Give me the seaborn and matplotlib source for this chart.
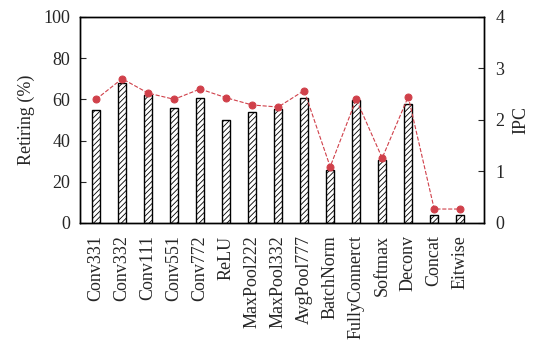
import numpy as np
import pandas as pd
import seaborn as sns
import matplotlib
matplotlib.use('Agg')
import matplotlib.pyplot as plt

layers = ['Conv331', 'Conv332', 'Conv111', 'Conv551', 'Conv772', 'ReLU',
          'MaxPool222', 'MaxPool332', 'AvgPool777', 'BatchNorm',
          'FullyConnerct', 'Softmax', 'Deconv', 'Concat', 'Eitwise']
retiring = [55, 68, 62, 56, 60.5, 50, 54, 55.5, 60.5, 25.5, 59.5, 30.5, 57.5, 4, 4]
ipc = [2.40, 2.80, 2.52, 2.40, 2.60, 2.43, 2.29, 2.25, 2.57, 1.09, 2.40, 1.26, 2.45, 0.27, 0.27]

sns.set_style('ticks')
plt.rcParams['font.family'] = ['Liberation Serif', 'DejaVu Serif']
plt.rcParams['hatch.linewidth'] = 0.6

df = pd.DataFrame({'layer': layers, 'retiring': retiring, 'ipc': ipc})

fig, ax = plt.subplots(figsize=(5.44, 3.59), dpi=100)
fig.subplots_adjust(left=0.147, right=0.890, top=0.953, bottom=0.379)

sns.barplot(data=df, x='layer', y='retiring', ax=ax, color='white',
            edgecolor='black', linewidth=1.0, width=0.3, hatch='//////')
ax.set_ylim(0, 100)
ax.set_xlim(-0.62, 14.92)
ax.set_ylabel('Retiring (%)', fontsize=13, labelpad=6)
ax.set_xlabel('')
ax.set_yticks([0, 20, 40, 60, 80, 100])
ax.tick_params(axis='y', direction='in', labelsize=13, length=4, pad=7)
ax.tick_params(axis='x', length=0, labelsize=13, rotation=90, pad=9)

ax2 = ax.twinx()
sns.lineplot(x=np.arange(len(layers)), y=df['ipc'], ax=ax2, color='#d0404a',
             linestyle='--', linewidth=0.8, marker='o', markersize=5,
             markeredgecolor='#d0404a')
ax2.set_ylim(0, 4)
ax2.set_yticks([0, 1, 2, 3, 4])
ax2.set_ylabel('IPC', fontsize=13, labelpad=6)
ax2.tick_params(axis='y', direction='in', labelsize=13, length=4, pad=8)

for a in (ax, ax2):
    for s in a.spines.values():
        s.set_visible(True)
        s.set_linewidth(1.0)
        s.set_color('black')

fig.savefig('out.png', dpi=100)
